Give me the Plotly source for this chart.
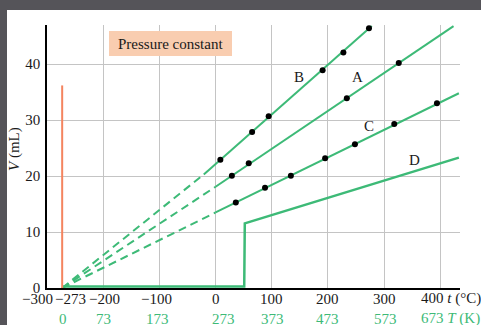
import plotly.graph_objects as go

W, H = 481, 325
GREEN = "#3dba77"
ORANGE = "#f4845f"
SERIF = "Liberation Serif"
INK = "#1a1a1a"

# ---- data ----
B_t = [8.5, 65, 94.5, 190.5, 227.5, 273]
B_V = [22.9, 27.9, 30.7, 38.9, 42.1, 46.4]
A_t = [29, 59, 233.6, 326]
A_V = [20.05, 22.3, 33.9, 40.2]
C_t = [36, 88, 134, 195, 248, 318, 394]
C_V = [15.3, 17.9, 20.05, 23.2, 25.7, 29.3, 33.0]

B_solid_t = [-21, 278]
B_solid_V = [20.3, 46.8]
A_solid_t = [0, 423.5]
A_solid_V = [18.1, 46.8]
C_solid_t = [0, 433]
C_solid_V = [13.5, 34.8]
D_t = [-273, 51, 52, 433]
D_V = [0.25, 0.25, 11.55, 23.3]

B_dash_t = [-273, -21]
B_dash_V = [0, 20.3]
A_dash_t = [-273, 0]
A_dash_V = [0, 18.1]
C_dash_t = [-273, 0]
C_dash_V = [0, 13.5]

orange_t = [-273, -273]
orange_V = [0, 36.2]

x_grid = [-200, -100, 0, 100, 200, 300, 400]
y_ticks = [0, 10, 20, 30, 40]
celsius_labels = ["−300", "−273", "−200", "−100", "0", "100", "200", "300"]
celsius_pos = [-300, -273, -200, -100, 0, 100, 200, 300]
kelvin_labels = ["0", "73", "173", "273", "373", "473", "573"]
kelvin_pos = [-273, -200, -100, 0, 100, 200, 300]

fig = go.Figure()

for tt, vv in [(B_dash_t, B_dash_V), (A_dash_t, A_dash_V), (C_dash_t, C_dash_V)]:
    fig.add_trace(go.Scatter(x=tt, y=vv, mode="lines",
                             line=dict(color=GREEN, width=2, dash="8px,5px")))
for tt, vv in [(B_solid_t, B_solid_V), (A_solid_t, A_solid_V), (C_solid_t, C_solid_V)]:
    fig.add_trace(go.Scatter(x=tt, y=vv, mode="lines", line=dict(color=GREEN, width=2)))
fig.add_trace(go.Scatter(x=D_t, y=D_V, mode="lines", line=dict(color=GREEN, width=2.5)))
fig.add_trace(go.Scatter(x=orange_t, y=orange_V, mode="lines", line=dict(color=ORANGE, width=2)))
for tt, vv in [(B_t, B_V), (A_t, A_V), (C_t, C_V)]:
    fig.add_trace(go.Scatter(x=tt, y=vv, mode="markers",
                             marker=dict(color="black", size=6)))

x0, x1 = 47 / W, 460 / W
y0, y1 = 1 - 288 / H, 1 - 25 / H

fig.update_layout(
    width=W, height=H, autosize=False,
    margin=dict(l=0, r=0, t=0, b=0, pad=0),
    paper_bgcolor="#555459",
    plot_bgcolor="white",
    showlegend=False,
    font=dict(family=SERIF, size=15, color=INK),
    xaxis=dict(domain=[x0, x1], range=[-300, 435], tickvals=x_grid,
               showticklabels=False, showgrid=True, gridcolor="#c4c4c4", gridwidth=1,
               zeroline=False, showline=True, linecolor="black", linewidth=1.5,
               ticks="", automargin=False),
    yaxis=dict(domain=[y0, y1], range=[0, 47], tickvals=y_ticks,
               showgrid=True, gridcolor="#c4c4c4", gridwidth=1,
               zeroline=False, showline=True, linecolor="black", linewidth=1.5,
               ticks="", automargin=False, ticklabelstandoff=2,
               tickfont=dict(family=SERIF, size=15, color=INK)),
    shapes=[
        dict(type="rect", xref="paper", yref="paper", x0=7 / W, x1=1, y0=0, y1=1 - 10 / H,
             fillcolor="white", line=dict(width=0), layer="below"),
        dict(type="rect", xref="paper", yref="paper", x0=109 / W, x1=232 / W,
             y0=1 - 56 / H, y1=1 - 31 / H, fillcolor="#f9cdb0", line=dict(width=0),
             layer="above"),
    ],
)

ann = []


def add(x, y, text, xref="paper", xanchor="center", xshift=0, color=INK,
        size=15, angle=0):
    ann.append(dict(x=x, y=y, xref=xref, yref="paper", text=text, showarrow=False,
                    xanchor=xanchor, yanchor="middle", xshift=xshift, textangle=angle,
                    font=dict(family=SERIF, size=size, color=color)))


add(170.5 / W, 1 - 43.5 / H, "Pressure constant", size=15)
add(14 / W, 1 - 149 / H, "<i>V</i> (mL)", angle=-90)
for lab, (lx, ly) in zip(["B", "A", "C", "D"], [(299, 77), (357, 77), (369, 126), (414, 160)]):
    add(lx / W, 1 - ly / H, lab)

c_shift = [-10, 8, 1, -3, 0, 0, 0, 0]
for lab, pos, sh in zip(celsius_labels, celsius_pos, c_shift):
    add(pos, 1 - 298.5 / H, lab, xref="x", xshift=sh)
add(400, 1 - 298.5 / H, "400 <i>t</i> (°C)", xref="x", xanchor="left", xshift=-21)
k_shift = [1, 0, -2, 8, 1, 0, 1]
for lab, pos, sh in zip(kelvin_labels, kelvin_pos, k_shift):
    add(pos, 1 - 318.5 / H, lab, xref="x", xshift=sh, color=GREEN)
add(400, 1 - 318.5 / H, "673 <i>T</i> (K)", xref="x", xanchor="left", xshift=-21, color=GREEN)
fig.update_layout(annotations=ann)

fig.write_html(
    "out.html",
    config={"displayModeBar": False},
    post_script="document.body.style.margin='0';document.body.style.overflow='hidden';"
                "Plotly.Plots.resize(document.getElementById('{plot_id}'));",
)
